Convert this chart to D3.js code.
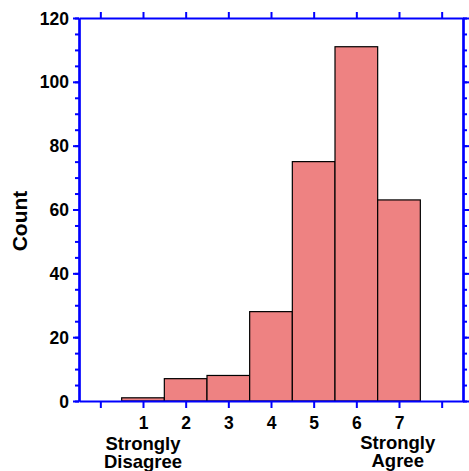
<!DOCTYPE html>
<html>
<head>
<meta charset="utf-8">
<script src="https://cdn.jsdelivr.net/npm/d3@7"></script>
<style>
  html, body { margin: 0; padding: 0; background: #fff; }
  svg text { font-family: "Liberation Sans", Arial, sans-serif; font-weight: bold; fill: #000; }
</style>
</head>
<body>
<svg id="chart" width="469" height="471"></svg>
<script>
// Response scale (1 = Strongly Disagree, 7 = Strongly Agree) and counts
const categories = [1, 2, 3, 4, 5, 6, 7];
const counts = [1, 7, 8, 28, 75, 111, 63];
const yTickLabels = [0, 20, 40, 60, 80, 100, 120];
const xTickLabels = [1, 2, 3, 4, 5, 6, 7];
const endLabels = [
  { at: 1, lines: ["Strongly", "Disagree"], base: 450 },
  { at: 6.97, lines: ["Strongly", "Agree"], base: 448.5 }
];

const svg = d3.select("#chart");
const plotLeft = 79, plotRight = 463, plotTop = 18, plotBottom = 401;
const axisColor = "#0000ff";
const tickFont = 17.5;
const labelFont = 18.5;

const x = d3.scaleLinear().domain([-0.5, 8.5]).range([plotLeft, plotRight]);
const y = d3.scaleLinear().domain([0, 120]).range([plotBottom, plotTop]);

// Bars
svg.append("g").selectAll("rect")
  .data(categories)
  .join("rect")
  .attr("x", (d) => x(d - 0.5))
  .attr("width", (d) => x(d + 0.5) - x(d - 0.5))
  .attr("y", (d, i) => y(counts[i]))
  .attr("height", (d, i) => y(0) - y(counts[i]))
  .attr("fill", "#ee8282")
  .attr("stroke", "#000")
  .attr("stroke-width", 1.2);

// Frame axes: ticks point outward on every side
const xTicks = d3.range(0, 9);
const yMinor = d3.range(0, 121, 5);

function styleAxis(g) {
  g.selectAll(".domain").attr("stroke", axisColor).attr("stroke-width", 2.2);
  g.selectAll(".tick line").attr("stroke", axisColor).attr("stroke-width", 2);
}

// Bottom
const gb = svg.append("g").attr("transform", `translate(0,${plotBottom})`)
  .call(d3.axisBottom(x).tickValues(xTicks).tickSize(7).tickSizeOuter(0)
    .tickFormat((d) => xTickLabels.includes(d) ? d : ""));
styleAxis(gb);
gb.selectAll(".tick text")
  .attr("font-size", tickFont)
  .attr("y", 27.5).attr("dy", 0);

// Top
const gt = svg.append("g").attr("transform", `translate(0,${plotTop})`)
  .call(d3.axisTop(x).tickValues(xTicks).tickSize(6).tickSizeOuter(0).tickFormat(""));
styleAxis(gt);

// Left: minor ticks then major with labels
const glm = svg.append("g").attr("transform", `translate(${plotLeft},0)`)
  .call(d3.axisLeft(y).tickValues(yMinor).tickSize(4).tickSizeOuter(0).tickFormat(""));
styleAxis(glm);
const gl = svg.append("g").attr("transform", `translate(${plotLeft},0)`)
  .call(d3.axisLeft(y).tickValues(yTickLabels).tickSize(6).tickSizeOuter(0));
styleAxis(gl);
gl.selectAll(".tick text")
  .attr("font-size", tickFont)
  .attr("x", -10).attr("dy", "0.35em");

// Right
const grm = svg.append("g").attr("transform", `translate(${plotRight},0)`)
  .call(d3.axisRight(y).tickValues(yMinor).tickSize(4).tickSizeOuter(0).tickFormat(""));
styleAxis(grm);
const gr = svg.append("g").attr("transform", `translate(${plotRight},0)`)
  .call(d3.axisRight(y).tickValues(yTickLabels).tickSize(6).tickSizeOuter(0).tickFormat(""));
styleAxis(gr);

// Scale end descriptions, two stacked lines each
endLabels.forEach((e) => {
  const t = svg.append("text")
    .attr("text-anchor", "middle")
    .attr("font-size", labelFont);
  e.lines.forEach((line, i) => {
    t.append("tspan")
      .attr("x", x(e.at))
      .attr("y", e.base + i * 18)
      .text(line);
  });
});

// Y axis title
svg.append("text")
  .attr("transform", "translate(27,221) rotate(-90)")
  .attr("text-anchor", "middle")
  .attr("font-size", 21)
  .text("Count");
</script>
</body>
</html>
